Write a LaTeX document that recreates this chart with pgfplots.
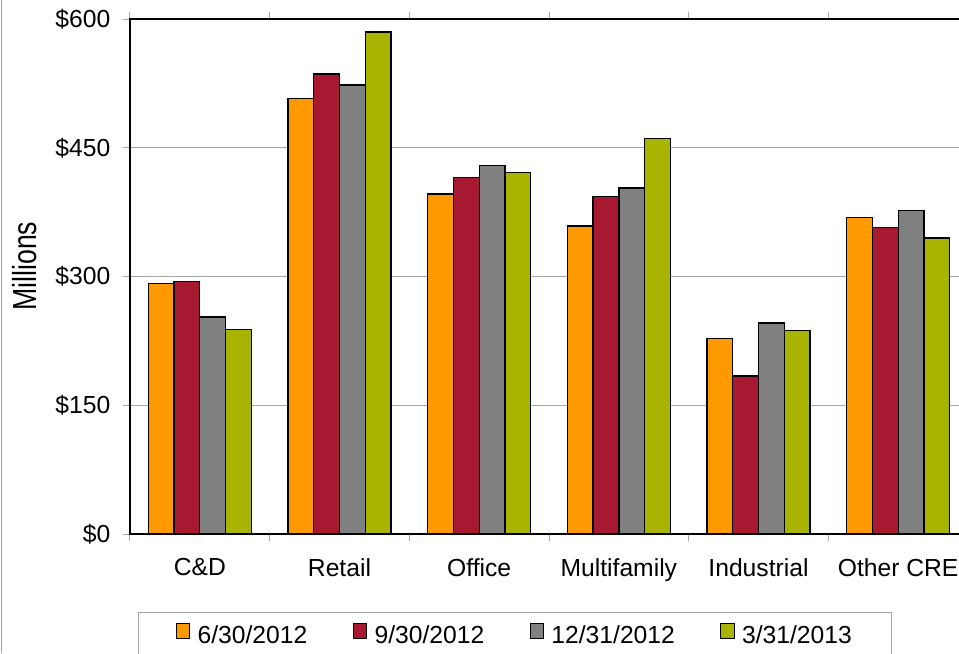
\documentclass[border=0pt]{standalone}
\usepackage{pgfplots}
\pgfplotsset{compat=1.18}
\usepackage{fontspec}
\setmainfont{Liberation Sans}

\definecolor{cOrange}{HTML}{FF9900}
\definecolor{cRed}{HTML}{A71930}
\definecolor{cGray}{HTML}{808080}
\definecolor{cGreen}{HTML}{A8B400}
\definecolor{cGrid}{HTML}{A6A6A6}

\newcommand{\lblfont}{\fontsize{18.5}{22}\selectfont}

\begin{document}
\begin{tikzpicture}[x=0.75pt,y=0.75pt]
\useasboundingbox (0,0) rectangle (959,653);
\clip (0,0) rectangle (959,653);
\draw[cGrid, line width=1pt] (1.5,0) -- (1.5,653);
\begin{axis}[
  at={(97.5pt,89.25pt)}, anchor=south west,
  scale only axis, width=628.5pt, height=386.25pt,
  ybar=0pt, bar width=19.3pt,
  xmin=-0.5, xmax=5.5, ymin=0, ymax=600,
  xtick={-0.5,0.5,...,5.5}, xticklabels={},
  extra x ticks={0,1,2,3,4,5},
  extra x tick labels={C\&D,Retail,Office,Multifamily,Industrial,Other CRE},
  extra x tick style={tick style={draw=none}, grid=none},
  ytick={0,150,300,450,600},
  yticklabels={\$0,\$150,\$300,\$450,\$600},
  tick align=outside, major tick length=5.25pt,
  tick style={cGrid, line width=0.75pt},
  x tick label style={font=\lblfont, yshift=-9.5pt},
  y tick label style={font=\lblfont, xshift=-6pt},
  ymajorgrids, grid style={cGrid, line width=1pt},
  axis line style={black, line width=1pt},
  ylabel={\scalebox{0.8}[1]{\fontsize{25}{28}\selectfont Millions}},
  ylabel style={at={(axis description cs:-0.126,0.52)}, anchor=center},
  legend columns=4,
  legend style={at={(axis description cs:0.0095,-0.1515)}, anchor=north west,
    draw=cGrid, line width=0.75pt, font=\lblfont,
    inner xsep=28pt, inner ysep=8pt,
    /tikz/every even column/.append style={column sep=32pt}},
  legend image code/.code={\draw[#1, line width=0.75pt] (0pt,-2pt) rectangle (10pt,9pt);
    \path (13.5pt,0pt);},
  every axis plot/.append style={draw=black, line width=1pt},
]
\addplot[fill=cOrange] coordinates {(0,292) (1,507) (2,396) (3,359) (4,228) (5,369)};
\addplot[fill=cRed]    coordinates {(0,294) (1,536) (2,415) (3,393) (4,184) (5,357)};
\addplot[fill=cGray]   coordinates {(0,253) (1,523) (2,429) (3,403) (4,246) (5,377)};
\addplot[fill=cGreen]  coordinates {(0,238) (1,585) (2,421) (3,461) (4,237) (5,345)};
\legend{6/30/2012,9/30/2012,12/31/2012,3/31/2013}
\end{axis}
\end{tikzpicture}
\end{document}
